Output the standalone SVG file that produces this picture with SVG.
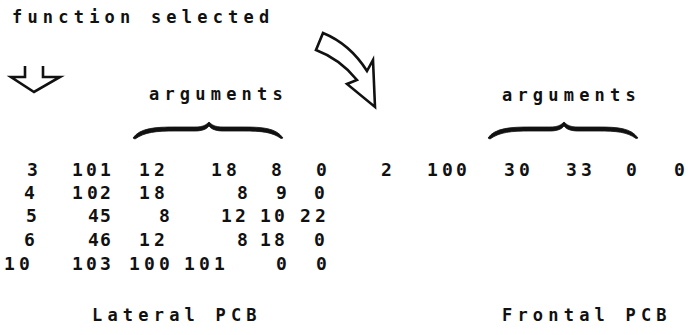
<svg xmlns="http://www.w3.org/2000/svg" width="698" height="335" viewBox="0 0 698 335">
<style>
  text { font-family: "DejaVu Sans Mono", "Liberation Mono", monospace; font-weight: bold; fill: #111; }
  .lbl { font-size: 17px; letter-spacing: 5.2px; }
  .num { font-size: 18px; }
  .arrow { fill: #fff; stroke: #111; stroke-width: 2.6; stroke-linejoin: miter; }
  .brace { fill: #111; stroke: #111; stroke-width: 0.8; }
</style>
<defs>
  <path id="brace" d="M0,16 C7,6 22,5 42,5 L62,5 C70,5 73,3 76,0 C79,3 82,5 90,5 L110,5 C130,5 143,6 150,16 L148,16.5 C139,10 129,9 110,9 L90,9 C83,9 78,7 76,4 C74,7 69,9 62,9 L42,9 C23,9 12,10 2,17 Z"/>
</defs>
<rect width="698" height="335" fill="#fff"/>

<g id="title"><text class="lbl" x="12" y="23">function selected</text></g>

<g id="connectors">
  <path id="down-arrow" class="arrow" fill="none" d="M25,66 L25,77 L11,77 L34,92 L60,77 L43,77 L43,66"/>
  <path id="curved-arrow" class="arrow" d="M323,33 Q350,44 367,71 L373,60 L375,107 L347,84 L357,80 Q340,59 316,50 Z"/>
</g>

<g id="lateral-args">
  <text class="lbl" x="149" y="100">arguments</text>
  <use href="#brace" x="133" y="122" class="brace"/>
</g>
<g id="frontal-args">
  <text class="lbl" x="502" y="101">arguments</text>
  <use href="#brace" x="488" y="122" class="brace"/>
</g>

<g id="lateral-pcb">
  <text class="num" x="27" y="176">3</text><text class="num" x="72 86 100" y="176">101</text><text class="num" x="139 154" y="176">12</text><text class="num" x="211 226" y="176">18</text><text class="num" x="271" y="176">8</text><text class="num" x="316" y="176">0</text>
  <text class="num" x="24" y="199">4</text><text class="num" x="72 87 100" y="199">102</text><text class="num" x="139 154" y="199">18</text><text class="num" x="237" y="199">8</text><text class="num" x="276" y="199">9</text><text class="num" x="314" y="199">0</text>
  <text class="num" x="26" y="222">5</text><text class="num" x="88 100" y="222">45</text><text class="num" x="159" y="222">8</text><text class="num" x="221 235" y="222">12</text><text class="num" x="260 274" y="222">10</text><text class="num" x="300 315" y="222">22</text>
  <text class="num" x="24" y="246">6</text><text class="num" x="88 100" y="246">46</text><text class="num" x="139 154" y="246">12</text><text class="num" x="237" y="246">8</text><text class="num" x="260 274" y="246">18</text><text class="num" x="314" y="246">0</text>
  <text class="num" x="4 19" y="270">10</text><text class="num" x="72 86 100" y="270">103</text><text class="num" x="129 144 159" y="270">100</text><text class="num" x="184 199 214" y="270">101</text><text class="num" x="276" y="270">0</text><text class="num" x="316" y="270">0</text>
  <text class="lbl" x="92" y="321">Lateral PCB</text>
</g>

<g id="frontal-pcb">
  <text class="num" x="381" y="176">2</text><text class="num" x="427 442 456" y="176">100</text><text class="num" x="504 519" y="176">30</text><text class="num" x="566 581" y="176">33</text><text class="num" x="626" y="176">0</text><text class="num" x="674" y="176">0</text>
  <text class="lbl" x="502" y="321">Frontal PCB</text>
</g>
</svg>
